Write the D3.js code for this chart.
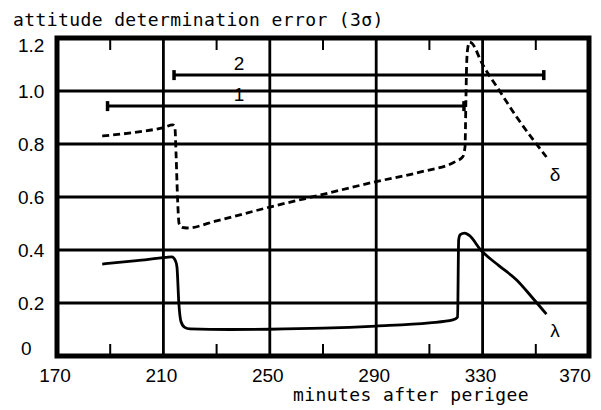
<!DOCTYPE html>
<html lang="en">
<head>
    <meta charset="UTF-8">
    <title>Attitude determination error</title>
    <script src="https://d3js.org/d3.v7.min.js"></script>
    <style>
        body { margin: 0; background: #fff; }
        .mono { font-family: "DejaVu Sans Mono", monospace; font-size: 18px; letter-spacing: 0.4px; }
        .tick-label { font-family: "Liberation Sans", Arial, sans-serif; font-size: 19px; }
        .grid { stroke: #000; stroke-width: 2.8px; }
    </style>
</head>
<body>
<svg width="601" height="410"></svg>
<script>
    // axis ticks
    const xTicks = [170, 210, 250, 290, 330, 370];
    const xMinor = [190, 230, 270, 310, 350];
    const yTicks = [0, 0.2, 0.4, 0.6, 0.8, 1.0, 1.2];
    const yLabels = ["0", "0.2", "0.4", "0.6", "0.8", "1.0", "1.2"];

    // lambda curve (solid)
    const lambdaMin = [187, 200, 211, 213.2, 214.5, 215.1, 215.8, 216.6, 218, 220, 235, 250, 270, 290, 310, 318.8, 320.6, 321, 321.6, 323.2, 325, 329.3, 336, 342.8, 348.8, 354];
    const lambdaErr = [0.347, 0.36, 0.372, 0.374, 0.36, 0.336, 0.2, 0.13, 0.108, 0.102, 0.1, 0.101, 0.105, 0.113, 0.125, 0.136, 0.147, 0.438, 0.458, 0.464, 0.455, 0.40, 0.342, 0.287, 0.219, 0.158];

    // delta curve (dashed)
    const deltaMin = [187, 200, 210, 213.5, 214.3, 214.8, 215.3, 215.9, 217, 218.8, 230, 250, 270, 289.5, 306.4, 320, 322.5, 323.4, 323.7, 324, 324.4, 325.1, 326, 329.7, 336.4, 342.8, 354];
    const deltaErr = [0.83, 0.845, 0.862, 0.872, 0.865, 0.75, 0.6, 0.5, 0.485, 0.483, 0.51, 0.562, 0.61, 0.657, 0.694, 0.735, 0.751, 0.79, 0.95, 1.1, 1.16, 1.185, 1.18, 1.106, 1.0, 0.902, 0.751];

    // horizontal bars 1 and 2
    const barNames = ["1", "2"];
    const barStart = [189, 214];
    const barEnd = [323, 353];
    const barLevel = [0.943, 1.06];

    const svg = d3.select("svg");
    const x = d3.scaleLinear().domain([170, 370]).range([57, 589]);
    const y = d3.scaleLinear().domain([0, 1.2]).range([356, 38]);

    // title
    svg.append("text").attr("class", "mono")
        .attr("x", 13).attr("y", 26)
        .text("attitude determination error (3σ)");

    // x axis title
    svg.append("text").attr("class", "mono")
        .attr("x", 293).attr("y", 401)
        .text("minutes after perigee");

    // grid
    svg.selectAll(".vgrid").data(xTicks.slice(1, -1)).enter().append("line")
        .attr("class", "grid")
        .attr("x1", d => x(d)).attr("x2", d => x(d))
        .attr("y1", y(1.2)).attr("y2", y(0));
    svg.selectAll(".hgrid").data(yTicks.slice(1, -1)).enter().append("line")
        .attr("class", "grid")
        .attr("x1", x(170)).attr("x2", x(370))
        .attr("y1", d => y(d)).attr("y2", d => y(d));

    // minor ticks top and bottom
    svg.selectAll(".mt").data(xMinor).enter().append("line")
        .attr("stroke", "#000").attr("stroke-width", 2)
        .attr("x1", d => x(d)).attr("x2", d => x(d))
        .attr("y1", y(1.2)).attr("y2", y(1.2) + 12);
    svg.selectAll(".mb").data(xMinor).enter().append("line")
        .attr("stroke", "#000").attr("stroke-width", 2)
        .attr("x1", d => x(d)).attr("x2", d => x(d))
        .attr("y1", y(0)).attr("y2", y(0) - 12);

    // frame
    svg.append("rect")
        .attr("x", x(170)).attr("y", y(1.2))
        .attr("width", x(370) - x(170)).attr("height", y(0) - y(1.2))
        .attr("fill", "none").attr("stroke", "#000").attr("stroke-width", 5);

    // tick labels
    svg.selectAll(".xl").data(xTicks).enter().append("text")
        .attr("class", "tick-label")
        .attr("text-anchor", "middle")
        .attr("x", (d, i) => x(d) + (i === xTicks.length - 1 ? -14 : -2))
        .attr("y", 382)
        .text(d => d);
    svg.selectAll(".yl").data(yTicks).enter().append("text")
        .attr("class", "tick-label")
        .attr("x", (d, i) => i === 0 ? 21 : 18)
        .attr("y", (d, i) => y(d) + 7 + (i === 0 ? -8 : i === yTicks.length - 1 ? 7 : 0))
        .text((d, i) => yLabels[i]);

    // bars
    const bars = svg.selectAll(".bar").data(barNames).enter().append("g");
    bars.append("line")
        .attr("stroke", "#000").attr("stroke-width", 3)
        .attr("x1", (d, i) => x(barStart[i])).attr("x2", (d, i) => x(barEnd[i]))
        .attr("y1", (d, i) => y(barLevel[i])).attr("y2", (d, i) => y(barLevel[i]));
    bars.append("line")
        .attr("stroke", "#000").attr("stroke-width", 3.5)
        .attr("x1", (d, i) => x(barStart[i])).attr("x2", (d, i) => x(barStart[i]))
        .attr("y1", (d, i) => y(barLevel[i]) - 5).attr("y2", (d, i) => y(barLevel[i]) + 5);
    bars.append("line")
        .attr("stroke", "#000").attr("stroke-width", 3.5)
        .attr("x1", (d, i) => x(barEnd[i])).attr("x2", (d, i) => x(barEnd[i]))
        .attr("y1", (d, i) => y(barLevel[i]) - 5).attr("y2", (d, i) => y(barLevel[i]) + 5);
    bars.append("text")
        .attr("class", "tick-label")
        .attr("text-anchor", "middle")
        .attr("x", 239)
        .attr("y", (d, i) => y(barLevel[i]) - 5)
        .text(d => d);

    // curves
    const line = d3.line().x(d => x(d[0])).y(d => y(d[1])).curve(d3.curveMonotoneX);
    svg.append("path")
        .attr("d", line(lambdaMin.map((m, i) => [m, lambdaErr[i]])))
        .attr("fill", "none").attr("stroke", "#000").attr("stroke-width", 2.8)
        .attr("stroke-linejoin", "round");
    svg.append("path")
        .attr("d", line(deltaMin.map((m, i) => [m, deltaErr[i]])))
        .attr("fill", "none").attr("stroke", "#000").attr("stroke-width", 2.8)
        .attr("stroke-dasharray", "7,4");

    // curve labels
    svg.append("text").attr("class", "tick-label").attr("font-size", 18)
        .attr("x", 555).attr("y", 181).attr("text-anchor", "middle").text("δ");
    svg.append("text").attr("class", "tick-label").attr("font-size", 18)
        .attr("x", 555).attr("y", 337).attr("text-anchor", "middle").text("λ");
</script>
</body>
</html>
